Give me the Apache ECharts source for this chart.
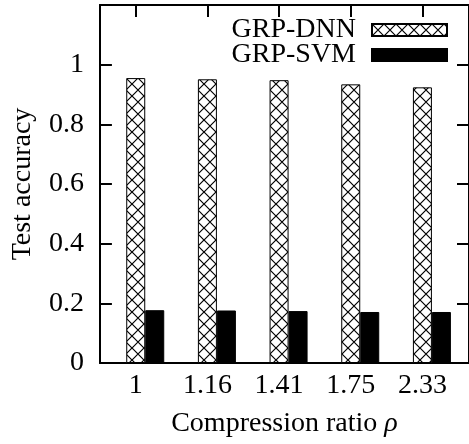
<!DOCTYPE html>
<html>
<head>
<meta charset="utf-8">
<script src="https://cdn.jsdelivr.net/npm/echarts@6/dist/echarts.min.js"></script>
<style>
html,body{margin:0;padding:0;background:#fff;}
#chart{width:469px;height:444px;}
</style>
</head>
<body>
<div id="chart"></div>
<script>
const categories = ['1', '1.16', '1.41', '1.75', '2.33'];
const dnnValues = [0.955, 0.951, 0.948, 0.934, 0.924];
const svmValues = [0.177, 0.176, 0.174, 0.171, 0.171];
const yTickLabels = ['0', '0.2', '0.4', '0.6', '0.8', '1'];
const seriesNames = ['GRP-DNN', 'GRP-SVM'];

const FONT = '"Liberation Serif", "Times New Roman", serif';
const FS = 28;

function hatch() {
  const c = document.createElement('canvas');
  c.width = 12; c.height = 12;
  const g = c.getContext('2d');
  g.fillStyle = '#fff';
  g.fillRect(0, 0, 12, 12);
  g.strokeStyle = '#000';
  g.lineWidth = 1.2;
  g.beginPath();
  g.moveTo(0, 0); g.lineTo(12, 12);
  g.moveTo(12, 0); g.lineTo(0, 12);
  g.stroke();
  return c;
}
const hatchPattern = { image: hatch(), repeat: 'repeat' };

const idx = categories.map((_, i) => i);
const chart = echarts.init(document.getElementById('chart'), null, { renderer: 'canvas' });

const option = {
  animation: false,
  backgroundColor: '#fff',
  textStyle: { fontFamily: FONT },
  grid: { left: 98, top: 5, width: 376, height: 359, containLabel: false },
  legend: {
    data: seriesNames,
    icon: 'rect',
    orient: 'vertical',
    align: 'right',
    right: 21,
    top: 16,
    padding: 0,
    itemGap: -3,
    itemWidth: 75,
    itemHeight: 12,
    selectedMode: false,
    textStyle: { fontFamily: FONT, fontSize: FS, color: '#000', lineHeight: 25, padding: [0, 11, 0, 0] }
  },
  xAxis: [
    {
      type: 'value',
      min: -0.5,
      max: 4.65,
      position: 'bottom',
      splitLine: { show: false },
      axisLine: { show: true, onZero: false, lineStyle: { color: '#000', width: 2 } },
      axisTick: { show: true, inside: true, length: 12, customValues: idx, lineStyle: { color: '#000', width: 2 } },
      axisLabel: {
        show: true, margin: 9, customValues: idx,
        formatter: v => categories[Math.round(v)] ?? '',
        fontFamily: FONT, fontSize: FS, color: '#000'
      },
      name: 'Compression ratio {i|ρ}',
      nameLocation: 'middle',
      nameGap: 46,
      nameTextStyle: {
        fontFamily: FONT, fontSize: FS, color: '#000', lineHeight: 30,
        rich: { i: { fontFamily: FONT, fontSize: FS, fontStyle: 'italic', color: '#000', lineHeight: 30 } }
      }
    },
    {
      type: 'value',
      min: -0.5,
      max: 4.65,
      position: 'top',
      splitLine: { show: false },
      axisLine: { show: true, onZero: false, lineStyle: { color: '#000', width: 2 } },
      axisTick: { show: true, inside: true, length: 12, customValues: idx, lineStyle: { color: '#000', width: 2 } },
      axisLabel: { show: false }
    }
  ],
  yAxis: [
    {
      type: 'value',
      min: 0,
      max: 1.2,
      interval: 0.2,
      position: 'left',
      splitLine: { show: false },
      axisLine: { show: true, onZero: false, lineStyle: { color: '#000', width: 2 } },
      axisTick: { show: true, inside: true, length: 12, lineStyle: { color: '#000', width: 2 } },
      axisLabel: {
        margin: 16,
        formatter: v => yTickLabels[Math.round(v / 0.2)] ?? '',
        fontFamily: FONT, fontSize: FS, color: '#000'
      },
      name: 'Test accuracy',
      nameLocation: 'middle',
      nameGap: 60,
      nameRotate: 90,
      nameTextStyle: { fontFamily: FONT, fontSize: FS, color: '#000', lineHeight: 30 }
    },
    {
      type: 'value',
      min: 0,
      max: 1.2,
      interval: 0.2,
      position: 'right',
      splitLine: { show: false },
      axisLine: { show: true, onZero: false, lineStyle: { color: '#000', width: 2 } },
      axisTick: { show: true, inside: true, length: 12, lineStyle: { color: '#000', width: 2 } },
      axisLabel: { show: false }
    }
  ],
  series: [
    {
      name: 'pad',
      type: 'bar',
      xAxisIndex: 0,
      yAxisIndex: 0,
      barWidth: 19,
      barGap: '0%',
      data: [],
      silent: true
    },
    {
      name: seriesNames[0],
      type: 'bar',
      xAxisIndex: 0,
      yAxisIndex: 0,
      barWidth: 19,
      barGap: '0%',
      itemStyle: { color: hatchPattern, borderColor: '#000', borderWidth: 1 },
      data: idx.map(i => [i, dnnValues[i]])
    },
    {
      name: seriesNames[1],
      type: 'bar',
      xAxisIndex: 0,
      yAxisIndex: 0,
      barWidth: 19,
      barGap: '0%',
      itemStyle: { color: '#000', borderColor: '#000', borderWidth: 1 },
      data: idx.map(i => [i, svmValues[i]])
    }
  ]
};
chart.setOption(option);
</script>
</body>
</html>
